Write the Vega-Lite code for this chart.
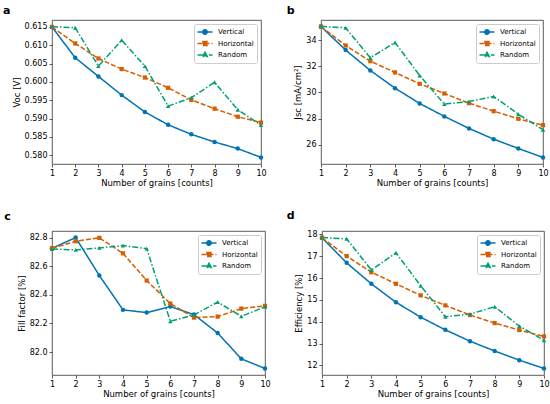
{
  "$schema": "https://vega.github.io/schema/vega-lite/v6.json",
  "padding": {"left": 2, "top": 4, "right": 4, "bottom": 4},
  "background": "white",
  "config": {
    "font": "DejaVu Sans",
    "view": {"stroke": "#333", "strokeWidth": 0.8},
    "axis": {
      "labelFont": "DejaVu Sans", "labelFontSize": 8, "labelColor": "#000",
      "titleFont": "DejaVu Sans", "titleFontSize": 8.5, "titleFontWeight": "normal", "titleColor": "#000",
      "tickColor": "#333", "tickSize": 3, "tickWidth": 0.8, "labelPadding": 2, "titlePadding": 3,
      "domain": false, "grid": false
    },
    "axisX": {"labelFlush": false, "labelOverlap": false, "titlePadding": 1},
    "legend": {
      "labelFont": "DejaVu Sans", "labelFontSize": 7, "labelColor": "#000",
      "padding": 3, "strokeColor": "#cccccc", "fillColor": "white", "cornerRadius": 2,
      "symbolSize": 64, "symbolStrokeWidth": 1.5, "symbolOffset": 3, "labelOffset": 8,
      "rowPadding": 0.5, "offset": 4
    },
    "title": {"font": "DejaVu Sans", "fontSize": 11, "fontWeight": "bold", "anchor": "start", "frame": "bounds", "color": "#000"}
  },
  "datasets": {
    "voc": [
      {"n": 1, "Vertical": 0.6150, "Horizontal": 0.6150, "Random": 0.6151},
      {"n": 2, "Vertical": 0.6066, "Horizontal": 0.6105, "Random": 0.6148},
      {"n": 3, "Vertical": 0.6015, "Horizontal": 0.6064, "Random": 0.6043},
      {"n": 4, "Vertical": 0.5964, "Horizontal": 0.6035, "Random": 0.6114},
      {"n": 5, "Vertical": 0.5918, "Horizontal": 0.6012, "Random": 0.6043},
      {"n": 6, "Vertical": 0.5883, "Horizontal": 0.5984, "Random": 0.5934},
      {"n": 7, "Vertical": 0.5857, "Horizontal": 0.5951, "Random": 0.5957},
      {"n": 8, "Vertical": 0.5836, "Horizontal": 0.5927, "Random": 0.5999},
      {"n": 9, "Vertical": 0.5818, "Horizontal": 0.5905, "Random": 0.5924},
      {"n": 10, "Vertical": 0.5794, "Horizontal": 0.5889, "Random": 0.5882}
    ],
    "jsc": [
      {"n": 1, "Vertical": 35.04, "Horizontal": 35.04, "Random": 35.06},
      {"n": 2, "Vertical": 33.24, "Horizontal": 33.59, "Random": 34.94},
      {"n": 3, "Vertical": 31.68, "Horizontal": 32.39, "Random": 32.65},
      {"n": 4, "Vertical": 30.33, "Horizontal": 31.53, "Random": 33.82},
      {"n": 5, "Vertical": 29.16, "Horizontal": 30.66, "Random": 31.30},
      {"n": 6, "Vertical": 28.17, "Horizontal": 29.92, "Random": 29.11},
      {"n": 7, "Vertical": 27.25, "Horizontal": 29.18, "Random": 29.31},
      {"n": 8, "Vertical": 26.43, "Horizontal": 28.57, "Random": 29.69},
      {"n": 9, "Vertical": 25.72, "Horizontal": 27.99, "Random": 28.34},
      {"n": 10, "Vertical": 25.03, "Horizontal": 27.50, "Random": 27.15}
    ],
    "ff": [
      {"n": 1, "Vertical": 82.725, "Horizontal": 82.725, "Random": 82.720},
      {"n": 2, "Vertical": 82.800, "Horizontal": 82.774, "Random": 82.714},
      {"n": 3, "Vertical": 82.535, "Horizontal": 82.798, "Random": 82.728},
      {"n": 4, "Vertical": 82.295, "Horizontal": 82.690, "Random": 82.744},
      {"n": 5, "Vertical": 82.276, "Horizontal": 82.500, "Random": 82.723},
      {"n": 6, "Vertical": 82.318, "Horizontal": 82.339, "Random": 82.215},
      {"n": 7, "Vertical": 82.262, "Horizontal": 82.241, "Random": 82.260},
      {"n": 8, "Vertical": 82.133, "Horizontal": 82.248, "Random": 82.349},
      {"n": 9, "Vertical": 81.953, "Horizontal": 82.304, "Random": 82.250},
      {"n": 10, "Vertical": 81.886, "Horizontal": 82.323, "Random": 82.316}
    ],
    "eff": [
      {"n": 1, "Vertical": 17.85, "Horizontal": 17.85, "Random": 17.86},
      {"n": 2, "Vertical": 16.70, "Horizontal": 17.01, "Random": 17.80},
      {"n": 3, "Vertical": 15.74, "Horizontal": 16.27, "Random": 16.37},
      {"n": 4, "Vertical": 14.89, "Horizontal": 15.74, "Random": 17.16},
      {"n": 5, "Vertical": 14.21, "Horizontal": 15.21, "Random": 15.65},
      {"n": 6, "Vertical": 13.63, "Horizontal": 14.75, "Random": 14.23},
      {"n": 7, "Vertical": 13.11, "Horizontal": 14.31, "Random": 14.35},
      {"n": 8, "Vertical": 12.66, "Horizontal": 13.94, "Random": 14.69},
      {"n": 9, "Vertical": 12.24, "Horizontal": 13.62, "Random": 13.80},
      {"n": 10, "Vertical": 11.86, "Horizontal": 13.33, "Random": 13.15}
    ]
  },
  "columns": 2,
  "align": "none",
  "spacing": {"row": 23, "column": 15},
  "resolve": {"scale": {"color": "independent", "strokeDash": "independent"}, "legend": {"color": "independent", "strokeDash": "independent"}},
  "concat": [
    {
      "title": {"text": "a", "dx": -9, "offset": 4},
      "width": 209, "height": 144,
      "data": {"name": "voc"},
      "transform": [{"fold": ["Vertical", "Horizontal", "Random"], "as": ["series", "v"]}],
      "encoding": {
        "x": {"field": "n", "type": "quantitative", "scale": {"domain": [1, 10], "nice": false, "zero": false}, "axis": {"values": [1,2,3,4,5,6,7,8,9,10], "title": "Number of grains [counts]"}},
        "y": {"field": "v", "type": "quantitative", "scale": {"domain": [0.5776, 0.6169], "nice": false, "zero": false}, "axis": {"values": [0.580,0.585,0.590,0.595,0.600,0.605,0.610,0.615], "format": ".3f", "title": "Voc [V]"}},
        "color": {"field": "series", "type": "nominal", "scale": {"domain": ["Vertical", "Horizontal", "Random"], "range": ["#0173b2", "#d55e00", "#029e73"]}, "legend": null}
      },
      "layer": [
        {
          "mark": {"type": "line", "strokeWidth": 1.5},
          "encoding": {
            "color": {"field": "series", "type": "nominal", "scale": {"domain": ["Vertical", "Horizontal", "Random"], "range": ["#0173b2", "#d55e00", "#029e73"]},
              "legend": {"title": null, "orient": "top-right", "encode": {"symbols": {"update": {
                "shape": {"signal": "datum.value === 'Vertical' ? 'M-1.875,0H1.875M0.56,0A0.56,0.56,0,1,1,-0.56,0A0.56,0.56,0,1,1,0.56,0Z' : datum.value === 'Horizontal' ? 'M-1.875,0H1.875M-0.5,-0.5H0.5V0.5H-0.5Z' : 'M-1.875,0H1.875M0,-0.67L0.58,0.4H-0.58Z'"},
                "fill": {"signal": "datum.value === 'Vertical' ? '#0173b2' : datum.value === 'Horizontal' ? '#d55e00' : '#029e73'"}}}}}},
            "strokeDash": {"field": "series", "type": "nominal", "scale": {"domain": ["Vertical", "Horizontal", "Random"], "range": [[1, 0], [5, 2], [6, 2, 1.5, 2]]},
              "legend": {"title": null, "orient": "top-right", "encode": {"symbols": {"update": {
                "shape": {"signal": "datum.value === 'Vertical' ? 'M-1.875,0H1.875M0.56,0A0.56,0.56,0,1,1,-0.56,0A0.56,0.56,0,1,1,0.56,0Z' : datum.value === 'Horizontal' ? 'M-1.875,0H1.875M-0.5,-0.5H0.5V0.5H-0.5Z' : 'M-1.875,0H1.875M0,-0.67L0.58,0.4H-0.58Z'"},
                "fill": {"signal": "datum.value === 'Vertical' ? '#0173b2' : datum.value === 'Horizontal' ? '#d55e00' : '#029e73'"}}}}}}
          }
        },
        {"transform": [{"filter": {"field": "series", "equal": "Vertical"}}], "mark": {"type": "point", "shape": "circle", "filled": true, "size": 20, "opacity": 1}},
        {"transform": [{"filter": {"field": "series", "equal": "Horizontal"}}], "mark": {"type": "point", "shape": "square", "filled": true, "size": 18, "opacity": 1}},
        {"transform": [{"filter": {"field": "series", "equal": "Random"}}], "mark": {"type": "point", "shape": "triangle-up", "filled": true, "size": 20, "opacity": 1}}
      ]
    },
    {
      "title": {"text": "b", "dx": -7, "offset": 4},
      "width": 222, "height": 144,
      "data": {"name": "jsc"},
      "transform": [{"fold": ["Vertical", "Horizontal", "Random"], "as": ["series", "v"]}],
      "encoding": {
        "x": {"field": "n", "type": "quantitative", "scale": {"domain": [1, 10], "nice": false, "zero": false}, "axis": {"values": [1,2,3,4,5,6,7,8,9,10], "title": "Number of grains [counts]"}},
        "y": {"field": "v", "type": "quantitative", "scale": {"domain": [24.53, 35.54], "nice": false, "zero": false}, "axis": {"values": [26,28,30,32,34], "format": "d", "title": "Jsc [mA/cm²]"}},
        "color": {"field": "series", "type": "nominal", "scale": {"domain": ["Vertical", "Horizontal", "Random"], "range": ["#0173b2", "#d55e00", "#029e73"]}, "legend": null}
      },
      "layer": [
        {
          "mark": {"type": "line", "strokeWidth": 1.5},
          "encoding": {
            "color": {"field": "series", "type": "nominal", "scale": {"domain": ["Vertical", "Horizontal", "Random"], "range": ["#0173b2", "#d55e00", "#029e73"]},
              "legend": {"title": null, "orient": "top-right", "encode": {"symbols": {"update": {
                "shape": {"signal": "datum.value === 'Vertical' ? 'M-1.875,0H1.875M0.56,0A0.56,0.56,0,1,1,-0.56,0A0.56,0.56,0,1,1,0.56,0Z' : datum.value === 'Horizontal' ? 'M-1.875,0H1.875M-0.5,-0.5H0.5V0.5H-0.5Z' : 'M-1.875,0H1.875M0,-0.67L0.58,0.4H-0.58Z'"},
                "fill": {"signal": "datum.value === 'Vertical' ? '#0173b2' : datum.value === 'Horizontal' ? '#d55e00' : '#029e73'"}}}}}},
            "strokeDash": {"field": "series", "type": "nominal", "scale": {"domain": ["Vertical", "Horizontal", "Random"], "range": [[1, 0], [5, 2], [6, 2, 1.5, 2]]},
              "legend": {"title": null, "orient": "top-right", "encode": {"symbols": {"update": {
                "shape": {"signal": "datum.value === 'Vertical' ? 'M-1.875,0H1.875M0.56,0A0.56,0.56,0,1,1,-0.56,0A0.56,0.56,0,1,1,0.56,0Z' : datum.value === 'Horizontal' ? 'M-1.875,0H1.875M-0.5,-0.5H0.5V0.5H-0.5Z' : 'M-1.875,0H1.875M0,-0.67L0.58,0.4H-0.58Z'"},
                "fill": {"signal": "datum.value === 'Vertical' ? '#0173b2' : datum.value === 'Horizontal' ? '#d55e00' : '#029e73'"}}}}}}
          }
        },
        {"transform": [{"filter": {"field": "series", "equal": "Vertical"}}], "mark": {"type": "point", "shape": "circle", "filled": true, "size": 20, "opacity": 1}},
        {"transform": [{"filter": {"field": "series", "equal": "Horizontal"}}], "mark": {"type": "point", "shape": "square", "filled": true, "size": 18, "opacity": 1}},
        {"transform": [{"filter": {"field": "series", "equal": "Random"}}], "mark": {"type": "point", "shape": "triangle-up", "filled": true, "size": 20, "opacity": 1}}
      ]
    },
    {
      "title": {"text": "c", "dx": -13, "offset": 9},
      "width": 213, "height": 144,
      "data": {"name": "ff"},
      "transform": [{"fold": ["Vertical", "Horizontal", "Random"], "as": ["series", "v"]}],
      "encoding": {
        "x": {"field": "n", "type": "quantitative", "scale": {"domain": [1, 10], "nice": false, "zero": false}, "axis": {"values": [1,2,3,4,5,6,7,8,9,10], "title": "Number of grains [counts]"}},
        "y": {"field": "v", "type": "quantitative", "scale": {"domain": [81.84, 82.846], "nice": false, "zero": false}, "axis": {"values": [82.0,82.2,82.4,82.6,82.8], "format": ".1f", "title": "Fill factor [%]"}},
        "color": {"field": "series", "type": "nominal", "scale": {"domain": ["Vertical", "Horizontal", "Random"], "range": ["#0173b2", "#d55e00", "#029e73"]}, "legend": null}
      },
      "layer": [
        {
          "mark": {"type": "line", "strokeWidth": 1.5},
          "encoding": {
            "color": {"field": "series", "type": "nominal", "scale": {"domain": ["Vertical", "Horizontal", "Random"], "range": ["#0173b2", "#d55e00", "#029e73"]},
              "legend": {"title": null, "orient": "top-right", "encode": {"symbols": {"update": {
                "shape": {"signal": "datum.value === 'Vertical' ? 'M-1.875,0H1.875M0.56,0A0.56,0.56,0,1,1,-0.56,0A0.56,0.56,0,1,1,0.56,0Z' : datum.value === 'Horizontal' ? 'M-1.875,0H1.875M-0.5,-0.5H0.5V0.5H-0.5Z' : 'M-1.875,0H1.875M0,-0.67L0.58,0.4H-0.58Z'"},
                "fill": {"signal": "datum.value === 'Vertical' ? '#0173b2' : datum.value === 'Horizontal' ? '#d55e00' : '#029e73'"}}}}}},
            "strokeDash": {"field": "series", "type": "nominal", "scale": {"domain": ["Vertical", "Horizontal", "Random"], "range": [[1, 0], [5, 2], [6, 2, 1.5, 2]]},
              "legend": {"title": null, "orient": "top-right", "encode": {"symbols": {"update": {
                "shape": {"signal": "datum.value === 'Vertical' ? 'M-1.875,0H1.875M0.56,0A0.56,0.56,0,1,1,-0.56,0A0.56,0.56,0,1,1,0.56,0Z' : datum.value === 'Horizontal' ? 'M-1.875,0H1.875M-0.5,-0.5H0.5V0.5H-0.5Z' : 'M-1.875,0H1.875M0,-0.67L0.58,0.4H-0.58Z'"},
                "fill": {"signal": "datum.value === 'Vertical' ? '#0173b2' : datum.value === 'Horizontal' ? '#d55e00' : '#029e73'"}}}}}}
          }
        },
        {"transform": [{"filter": {"field": "series", "equal": "Vertical"}}], "mark": {"type": "point", "shape": "circle", "filled": true, "size": 20, "opacity": 1}},
        {"transform": [{"filter": {"field": "series", "equal": "Horizontal"}}], "mark": {"type": "point", "shape": "square", "filled": true, "size": 18, "opacity": 1}},
        {"transform": [{"filter": {"field": "series", "equal": "Random"}}], "mark": {"type": "point", "shape": "triangle-up", "filled": true, "size": 20, "opacity": 1}}
      ]
    },
    {
      "title": {"text": "d", "dx": -8, "offset": 9},
      "width": 222, "height": 144,
      "data": {"name": "eff"},
      "transform": [{"fold": ["Vertical", "Horizontal", "Random"], "as": ["series", "v"]}],
      "encoding": {
        "x": {"field": "n", "type": "quantitative", "scale": {"domain": [1, 10], "nice": false, "zero": false}, "axis": {"values": [1,2,3,4,5,6,7,8,9,10], "title": "Number of grains [counts]"}},
        "y": {"field": "v", "type": "quantitative", "scale": {"domain": [11.56, 18.16], "nice": false, "zero": false}, "axis": {"values": [12,13,14,15,16,17,18], "format": "d", "title": "Efficiency [%]"}},
        "color": {"field": "series", "type": "nominal", "scale": {"domain": ["Vertical", "Horizontal", "Random"], "range": ["#0173b2", "#d55e00", "#029e73"]}, "legend": null}
      },
      "layer": [
        {
          "mark": {"type": "line", "strokeWidth": 1.5},
          "encoding": {
            "color": {"field": "series", "type": "nominal", "scale": {"domain": ["Vertical", "Horizontal", "Random"], "range": ["#0173b2", "#d55e00", "#029e73"]},
              "legend": {"title": null, "orient": "top-right", "encode": {"symbols": {"update": {
                "shape": {"signal": "datum.value === 'Vertical' ? 'M-1.875,0H1.875M0.56,0A0.56,0.56,0,1,1,-0.56,0A0.56,0.56,0,1,1,0.56,0Z' : datum.value === 'Horizontal' ? 'M-1.875,0H1.875M-0.5,-0.5H0.5V0.5H-0.5Z' : 'M-1.875,0H1.875M0,-0.67L0.58,0.4H-0.58Z'"},
                "fill": {"signal": "datum.value === 'Vertical' ? '#0173b2' : datum.value === 'Horizontal' ? '#d55e00' : '#029e73'"}}}}}},
            "strokeDash": {"field": "series", "type": "nominal", "scale": {"domain": ["Vertical", "Horizontal", "Random"], "range": [[1, 0], [5, 2], [6, 2, 1.5, 2]]},
              "legend": {"title": null, "orient": "top-right", "encode": {"symbols": {"update": {
                "shape": {"signal": "datum.value === 'Vertical' ? 'M-1.875,0H1.875M0.56,0A0.56,0.56,0,1,1,-0.56,0A0.56,0.56,0,1,1,0.56,0Z' : datum.value === 'Horizontal' ? 'M-1.875,0H1.875M-0.5,-0.5H0.5V0.5H-0.5Z' : 'M-1.875,0H1.875M0,-0.67L0.58,0.4H-0.58Z'"},
                "fill": {"signal": "datum.value === 'Vertical' ? '#0173b2' : datum.value === 'Horizontal' ? '#d55e00' : '#029e73'"}}}}}}
          }
        },
        {"transform": [{"filter": {"field": "series", "equal": "Vertical"}}], "mark": {"type": "point", "shape": "circle", "filled": true, "size": 20, "opacity": 1}},
        {"transform": [{"filter": {"field": "series", "equal": "Horizontal"}}], "mark": {"type": "point", "shape": "square", "filled": true, "size": 18, "opacity": 1}},
        {"transform": [{"filter": {"field": "series", "equal": "Random"}}], "mark": {"type": "point", "shape": "triangle-up", "filled": true, "size": 20, "opacity": 1}}
      ]
    }
  ]
}
